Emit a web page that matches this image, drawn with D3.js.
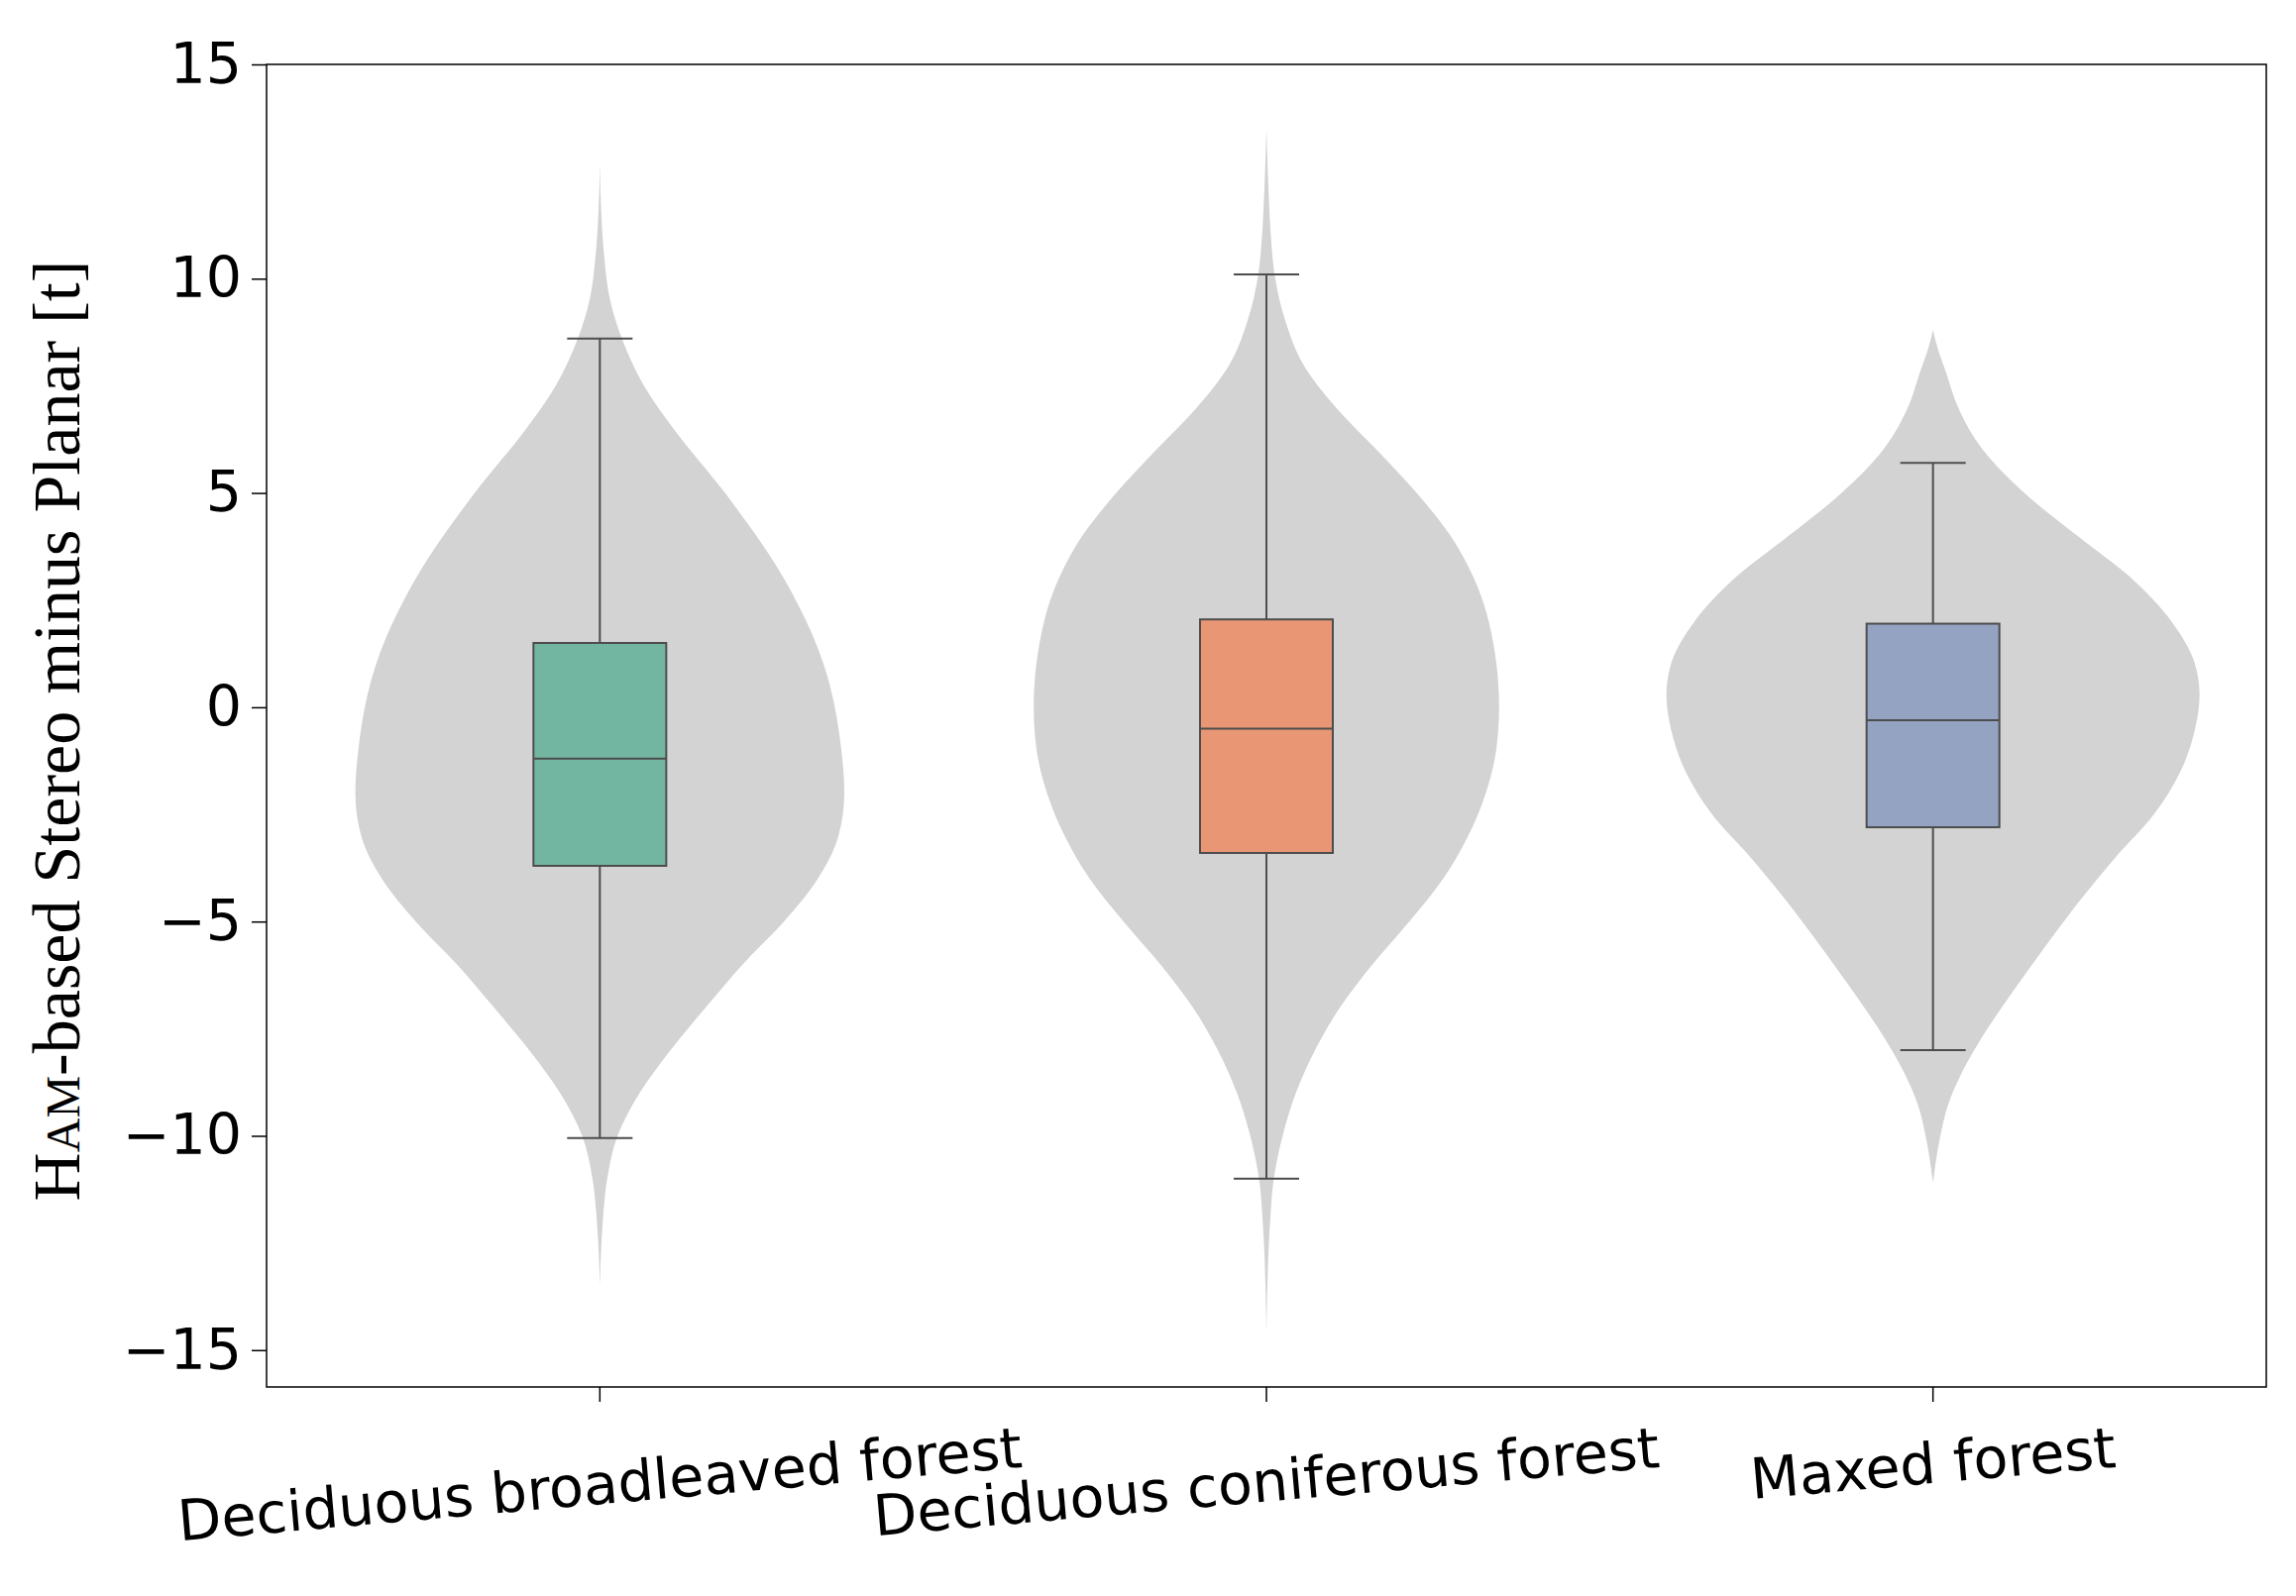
<!DOCTYPE html>
<html><head><meta charset="utf-8">
<script src="https://cdn.jsdelivr.net/npm/d3@7"></script>
<style>body{margin:0;background:#fff}</style>
</head><body>
<script>
var categories = ["Deciduous broadleaved forest", "Deciduous coniferous forest", "Maxed forest"];
var boxColors = ["#72b6a1", "#e99675", "#95a3c3"];
// violin profiles: [value, relative density]
var violin1 = [[12.7,0],[11.5,1],[10.5,3],[9.5,7],[8.6,15],[7.5,30],[6.5,50],[5,85],[3,125],[1,152],[-1,164],[-2,166],[-3,162],[-4,148],[-5,125],[-6,97],[-7,72],[-8,48],[-9,27],[-10,12],[-11,5],[-12,2],[-13.5,0]];
var violin2 = [[13.5,0],[12,1.5],[11,3],[10,6],[9,13],[8,25],[7,47],[6,75],[5,102],[4,125],[3,141],[2,151],[0,158],[-1,156],[-2,149],[-3,137],[-4,120],[-5,97],[-6,72],[-7,50],[-8,33],[-9,20],[-10,11],[-11,5],[-12,2.5],[-14.6,0]];
var violin3 = [[8.8,0],[8.4,3],[7.8,9],[7,17],[6,34],[5,62],[4,98],[3,135],[2,162],[1,178],[0.3,181],[-0.5,178],[-1.5,168],[-2.5,150],[-3.5,124],[-4.5,100],[-5.5,78],[-6.5,57],[-7.5,37],[-8.5,20],[-9.3,10],[-10,5],[-11.1,0]];
var violins = [violin1, violin2, violin3];
// [whiskerLow, q1, median, q3, whiskerHigh]
var boxStats = [[-10.05,-3.7,-1.2,1.5,8.6],[-11.0,-3.4,-0.5,2.05,10.1],[-8.0,-2.8,-0.3,1.95,5.7]];
var yTicks = [-15,-10,-5,0,5,10,15];

var W = 2317, H = 1611;
var m = {left: 269, right: 2287, top: 65, bottom: 1400};
var svg = d3.select("body").append("svg").attr("width", W).attr("height", H);

var x = d3.scaleBand().domain(categories).range([m.left, m.right]);
var y = d3.scaleLinear().domain([-15.86, 15]).range([m.bottom, m.top]);
var w = d3.scaleLinear().domain([0, 181]).range([0, 269]);

var area = d3.area().curve(d3.curveMonotoneY)
    .y(function (d) { return y(d[0]); });

violins.forEach(function (v, i) {
    var cx = x(categories[i]) + x.bandwidth() / 2;
    svg.append("path").datum(v)
        .attr("d", area.x0(function (d) { return cx - w(d[1]); }).x1(function (d) { return cx + w(d[1]); }))
        .attr("fill", "#d3d3d3");
});

var line = "#4d4d4d";
boxStats.forEach(function (s, i) {
    var cx = x(categories[i]) + x.bandwidth() / 2;
    var g = svg.append("g").attr("stroke", line).attr("stroke-width", 2);
    g.append("line").attr("x1", cx).attr("x2", cx).attr("y1", y(s[0])).attr("y2", y(s[4]));
    [s[0], s[4]].forEach(function (v) {
        g.append("line").attr("x1", cx - 33).attr("x2", cx + 33).attr("y1", y(v)).attr("y2", y(v));
    });
    g.append("rect").attr("x", cx - 67).attr("width", 134)
        .attr("y", y(s[3])).attr("height", y(s[1]) - y(s[3]))
        .attr("fill", boxColors[i]);
    g.append("line").attr("x1", cx - 67).attr("x2", cx + 67).attr("y1", y(s[2])).attr("y2", y(s[2]));
});

svg.append("rect").attr("x", m.left).attr("y", m.top)
    .attr("width", m.right - m.left).attr("height", m.bottom - m.top)
    .attr("fill", "none").attr("stroke", "#000").attr("stroke-width", 1.5);

var yAxis = svg.append("g").attr("transform", "translate(" + m.left + ",0)")
    .call(d3.axisLeft(y).tickValues(yTicks).tickSize(15).tickPadding(10)
        .tickFormat(function (d) { return d < 0 ? "\u2212" + Math.abs(d) : d; }));
yAxis.select(".domain").remove();
yAxis.selectAll("text").attr("font-family", "DejaVu Sans").attr("font-size", 57).attr("fill", "#000");
yAxis.selectAll("line").attr("stroke", "#000").attr("stroke-width", 1.5);

var xAxis = svg.append("g").attr("transform", "translate(0," + m.bottom + ")")
    .call(d3.axisBottom(x).tickSize(15).tickFormat(""));
xAxis.select(".domain").remove();
xAxis.selectAll("line").attr("stroke", "#000").attr("stroke-width", 1.5);

var ang = -5 * Math.PI / 180;
categories.forEach(function (c) {
    var cx = x(c) + x.bandwidth() / 2;
    var t = svg.append("text").text(c).attr("font-family", "DejaVu Sans").attr("font-size", 57)
        .attr("text-anchor", "middle").attr("dominant-baseline", "central");
    var L = t.node().getComputedTextLength();
    var cy = 1428 + L / 2 * Math.abs(Math.sin(ang)) + 33 * Math.cos(ang);
    t.attr("transform", "translate(" + cx + "," + cy + ") rotate(-5)");
});

var yl = svg.append("text").attr("font-family", "Liberation Serif").attr("font-size", 68)
    .attr("text-anchor", "middle")
    .attr("transform", "translate(80," + ((m.top + m.bottom) / 2 + 5) + ") rotate(-90)");
yl.append("tspan").text("H");
yl.append("tspan").attr("font-size", 48).text("AM");
yl.append("tspan").text("-based Stereo minus Planar [t]");
</script>
</body></html>
